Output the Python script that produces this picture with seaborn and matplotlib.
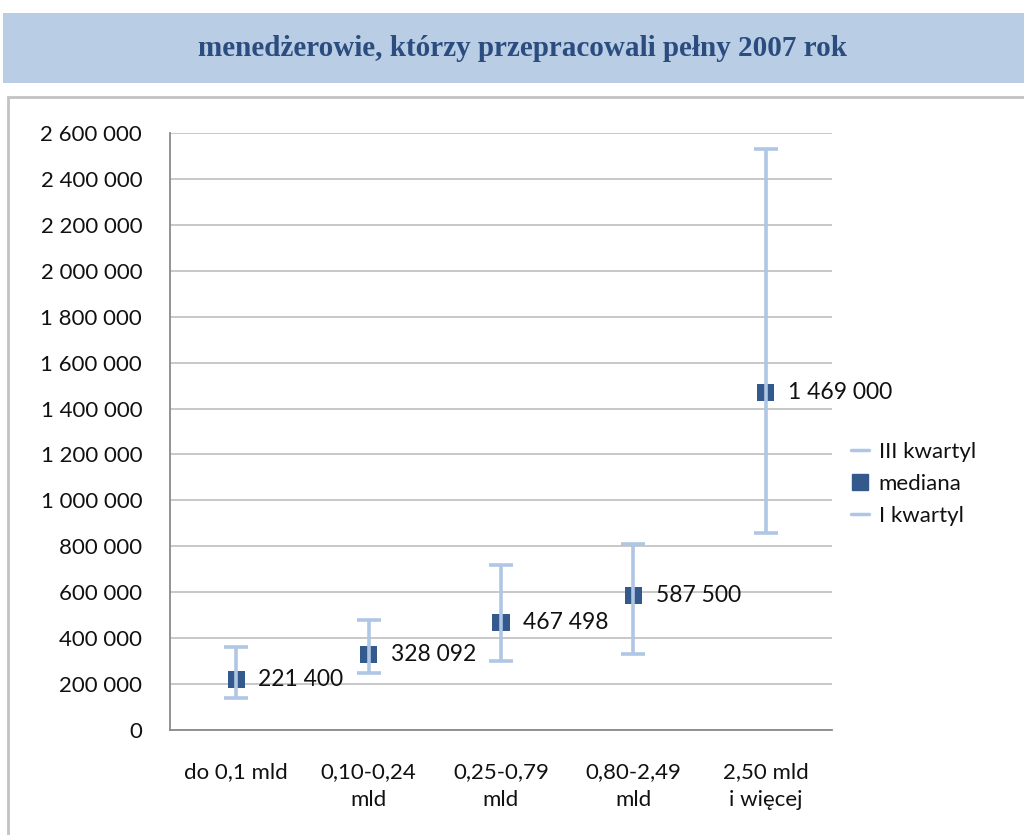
import numpy as np
import matplotlib
matplotlib.use("Agg")
import matplotlib.pyplot as plt
from matplotlib.lines import Line2D
from matplotlib.patches import Rectangle
from matplotlib.ticker import FuncFormatter, MultipleLocator
import pandas as pd
import seaborn as sns

# chart data
categories = ["do 0,1 mld", "0,10-0,24\nmld", "0,25-0,79\nmld", "0,80-2,49\nmld", "2,50 mld\ni więcej"]
median = [221400, 328092, 467498, 587500, 1469000]
q1 = [140000, 250000, 300000, 330000, 860000]
q3 = [360000, 480000, 720000, 810000, 2530000]
median_labels = ["221 400", "328 092", "467 498", "587 500", "1 469 000"]

title = "menedżerowie, którzy przepracowali pełny 2007 rok"

dark_blue = "#34598C"
light_blue = "#AFC6E4"
grid_gray = "#C8C8C8"
axis_gray = "#8A8A8A"

sns.set_style("white")
plt.rcParams['font.family'] = ['Lato', 'DejaVu Sans']

fig = plt.figure(figsize=(10.24, 8.35), dpi=100)

# title band and chart frame
fig.patches.append(Rectangle((3 / 1024, 1 - 83 / 835), 1, 70 / 835, transform=fig.transFigure,
                             facecolor="#B9CDE5", edgecolor="none", zorder=0))
fig.patches.append(Rectangle((8 / 1024, -0.1), 1.2, 1.1 - 97 / 835, transform=fig.transFigure,
                             facecolor="none", edgecolor="#C3C3C3", linewidth=2, zorder=0))
fig.text(523 / 1024, 1 - 48 / 835, title, ha="center", va="center", fontsize=21, fontweight="bold",
         family=["Liberation Serif", "DejaVu Serif"], color="#2B4C7E")

ax = fig.add_axes([170 / 1024, 1 - 730 / 835, 662 / 1024, 597 / 835])

df = pd.DataFrame({"cat": categories, "x": np.arange(len(categories)), "median": median, "q1": q1, "q3": q3})

sns.scatterplot(data=df, x="x", y="median", marker="s", s=150, color=dark_blue,
                edgecolor="none", ax=ax, zorder=3, legend=False)
ax.errorbar(df["x"], df["median"], yerr=[df["median"] - df["q1"], df["q3"] - df["median"]],
            fmt="none", ecolor=light_blue, elinewidth=2.6, capsize=8.5, capthick=2.6, zorder=4)

for xi, yi, lab in zip(df["x"], df["median"], median_labels):
    ax.annotate(lab, (xi, yi), xytext=(16, 0), textcoords="offset points",
                ha="left", va="center", fontsize=16.5, color="#111111")

ax.set_xlim(-0.5, len(categories) - 0.5)
ax.set_ylim(0, 2600000)
ax.yaxis.set_major_locator(MultipleLocator(200000))
ax.yaxis.set_major_formatter(FuncFormatter(lambda v, p: f"{v:,.0f}".replace(",", " ")))
ax.grid(axis="y", color=grid_gray, linewidth=1.4)
ax.set_axisbelow(True)

# category boundaries as major ticks, labels at centers
ax.set_xticks(np.arange(-0.5, len(categories), 1.0))
ax.set_xticklabels([])
ax.set_xticks(np.arange(len(categories)), minor=True)
ax.set_xticklabels(categories, minor=True, fontsize=16, linespacing=1.5, color="#111111")
ax.tick_params(axis="x", which="major", direction="out", length=6, width=1.2, color=axis_gray)
ax.tick_params(axis="x", which="minor", length=0, pad=23)
ax.tick_params(axis="y", direction="out", length=7, width=1.2, color=axis_gray, pad=13,
               labelsize=16, labelcolor="#111111")
ax.set_xlabel("")
ax.set_ylabel("")

for s in ["top", "right"]:
    ax.spines[s].set_visible(False)
for s in ["left", "bottom"]:
    ax.spines[s].set_color(axis_gray)
    ax.spines[s].set_linewidth(1.3)

handles = [
    Line2D([], [], color=light_blue, linewidth=2.5),
    Line2D([], [], color=dark_blue, marker="s", linestyle="none", markersize=11),
    Line2D([], [], color=light_blue, linewidth=2.5),
]
fig.legend(handles, ["III kwartyl", "mediana", "I kwartyl"], loc="center left",
           bbox_to_anchor=(842 / 1024, 1 - 484 / 835), frameon=False, fontsize=16,
           handlelength=0.8, handletextpad=0.45, labelspacing=0.55, labelcolor="#111111",
           borderaxespad=0)

fig.savefig("out.png", dpi=100)
